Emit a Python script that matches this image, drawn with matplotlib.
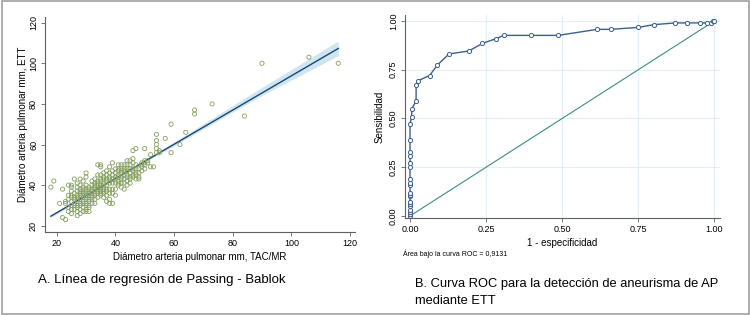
import matplotlib.pyplot as plt
import numpy as np
from matplotlib.patches import Rectangle

plt.rcParams['font.family'] = ['Liberation Sans', 'DejaVu Sans']

# panel A: diametro TAC/MR vs ETT (mm)
tac = [18, 19, 21, 22, 22, 23, 23, 23,
       24, 24, 24, 24, 24,
       25, 25, 25, 25, 25, 25, 25, 25, 25,
       26, 26, 26, 26, 26, 26, 26,
       27, 27, 27, 27, 27, 27, 27, 27, 27, 27, 27,
       28, 28, 28, 28, 28, 28, 28, 28, 28, 28, 28,
       29, 29, 29, 29, 29, 29, 29, 29, 29, 29,
       30, 30, 30, 30, 30, 30, 30, 30, 30, 30, 30, 30, 30,
       31, 31, 31, 31, 31, 31, 31, 31, 31,
       32, 32, 32, 32, 32, 32, 32, 32, 32,
       33, 33, 33, 33, 33, 33, 33, 33, 33,
       34, 34, 34, 34, 34, 34, 34, 34, 34,
       35, 35, 35, 35, 35, 35, 35, 35, 35, 35, 35,
       36, 36, 36, 36, 36, 36, 36, 36, 36,
       37, 37, 37, 37, 37, 37, 37, 37, 37,
       38, 38, 38, 38, 38, 38, 38, 38, 38,
       39, 39, 39, 39, 39, 39, 39, 39,
       40, 40, 40, 40, 40, 40, 40,
       41, 41, 41, 41, 41, 41, 41, 41,
       42, 42, 42, 42, 42, 42, 42, 42,
       43, 43, 43, 43, 43, 43, 43,
       44, 44, 44, 44, 44, 44, 44, 44,
       45, 45, 45, 45, 45, 45, 45,
       46, 46, 46, 46, 46, 46, 46,
       47, 47, 47, 47, 47, 47,
       48, 48, 48, 48,
       49, 49, 49, 49,
       50, 50, 50, 50, 50,
       51, 51, 52, 52, 53,
       54, 54, 54, 54, 54, 55, 55, 57, 59, 59, 62, 64, 67, 67,
       73, 84, 90, 106, 116]
ett = [39, 42, 31, 24, 38, 23, 31, 32,
       27, 29, 33, 35, 40,
       26, 28, 30, 32, 34, 35, 37, 39, 40,
       28, 30, 31, 33, 34, 36, 43,
       25, 27, 29, 30, 32, 33, 34, 35, 37, 39, 41,
       26, 28, 30, 31, 33, 35, 36, 37, 38, 40, 43,
       27, 29, 31, 32, 34, 35, 36, 38, 39, 42,
       27, 28, 30, 31, 33, 34, 35, 36, 37, 38, 40, 44, 46,
       27, 29, 30, 32, 33, 35, 36, 38, 39,
       31, 33, 34, 35, 36, 37, 38, 40, 42,
       31, 33, 35, 36, 38, 39, 40, 41, 43,
       34, 36, 37, 38, 40, 41, 42, 45, 50,
       35, 36, 37, 38, 39, 40, 42, 43, 45, 49, 50,
       34, 36, 37, 38, 40, 41, 43, 44, 46,
       32, 35, 37, 38, 40, 42, 43, 45, 47,
       31, 33, 36, 38, 41, 43, 44, 46, 49,
       31, 36, 38, 41, 43, 45, 47, 51,
       35, 38, 41, 43, 44, 46, 48,
       40, 41, 42, 44, 45, 47, 48, 50,
       39, 41, 43, 44, 46, 47, 48, 50,
       38, 41, 43, 45, 47, 48, 50,
       40, 42, 44, 45, 47, 48, 50, 52,
       41, 43, 44, 46, 48, 50, 52,
       44, 45, 47, 48, 51, 53, 57,
       43, 45, 46, 48, 50, 58,
       43, 44, 46, 48,
       47, 49, 50, 51,
       48, 50, 51, 52, 58,
       51, 52, 49, 55, 49,
       56, 58, 60, 62, 65, 56, 57, 63, 56, 70, 60, 66, 75, 77,
       80, 74, 100, 103, 100]

# recta Passing-Bablok e IC
pb_x = [18, 116]
pb_y = [24.7, 107.3]
band_x = [18, 35, 60, 90, 116]
band_lo = [24.0, 38.8, 59.4, 84.2, 103.8]
band_hi = [25.4, 39.7, 61.2, 88.2, 111.0]

# panel B: curva ROC
fpr = [0, 0, 0, 0, 0, 0, 0, 0, 0, 0, 0, 0, 0, 0, 0, 0, 0, 0, 0,
       0.005, 0.006, 0.02, 0.02, 0.027, 0.064, 0.09, 0.128, 0.193, 0.238,
       0.282, 0.308, 0.398, 0.487, 0.615, 0.66, 0.75, 0.80, 0.872, 0.91,
       0.954, 0.976, 0.99, 0.995, 1.0]
tpr = [0, 0.01, 0.02, 0.03, 0.05, 0.06, 0.07, 0.10, 0.11, 0.12, 0.16, 0.17,
       0.19, 0.25, 0.27, 0.31, 0.33, 0.39, 0.47,
       0.509, 0.55, 0.59, 0.67, 0.694, 0.72, 0.774, 0.831, 0.846, 0.885,
       0.909, 0.926, 0.926, 0.926, 0.957, 0.957, 0.967, 0.981, 0.99, 0.99,
       0.99, 0.99, 0.99, 1.0, 1.0]
auc_txt = "Área bajo la curva ROC = 0,9131"

fig = plt.figure(figsize=(7.5, 3.15), dpi=100)
fig.patches.append(Rectangle((0.002, 0.004), 0.996, 0.992, transform=fig.transFigure,
                             fill=False, edgecolor='#a0a0a0', linewidth=1.2))

tick_fs = 6.5
gray = '#606060'

# ---- A
ax = fig.add_axes([0.06, 0.2635, 0.4133, 0.6825])
ax.fill_between(band_x, band_lo, band_hi, color='#cfe5f1', linewidth=0)
ax.plot(pb_x, pb_y, color='#1a476f', linewidth=1.0)
ax.scatter(tac, ett, s=9, facecolors='none', edgecolors='#86a060', linewidths=0.6, zorder=3)
ax.set_xlim(16, 121.7)
ax.set_ylim(16.9, 122.8)
ax.set_xticks([20, 40, 60, 80, 100, 120])
ax.set_yticks([20, 40, 60, 80, 100, 120])
for s in ['top', 'right']:
    ax.spines[s].set_visible(False)
for s in ['left', 'bottom']:
    ax.spines[s].set_color(gray)
    ax.spines[s].set_linewidth(0.8)
ax.tick_params(labelsize=tick_fs, length=3, width=0.6, color=gray, pad=2)
plt.setp(ax.get_yticklabels(), rotation=90, va='center')
ax.set_xlabel("Diámetro arteria pulmonar mm, TAC/MR", fontsize=7, labelpad=3)
ax.set_ylabel("Diámetro arteria pulmonar mm, ETT", fontsize=7, labelpad=1)

fig.text(0.051, 0.11, "A. Línea de regresión de Passing - Bablok", fontsize=9.5, va='center')

# ---- B
bx = fig.add_axes([0.54, 0.307, 0.42, 0.645])
for v in [0.25, 0.5, 0.75, 1.0]:
    bx.axhline(v, color='#e3eef5', linewidth=0.8, zorder=0)
    bx.axvline(v, color='#e3eef5', linewidth=0.8, zorder=0)
bx.plot([0, 1], [0, 1], color='#3c8c84', linewidth=0.8)
bx.plot(fpr, tpr, color='#3d5f8c', linewidth=1.0, marker='o', markersize=3.0,
        markerfacecolor='white', markeredgecolor='#3d5f8c', markeredgewidth=0.7)
bx.set_xlim(-0.0165, 1.0185)
bx.set_ylim(-0.012, 1.03)
ticks = [0, 0.25, 0.5, 0.75, 1.0]
bx.set_xticks(ticks)
bx.set_yticks(ticks)
bx.set_xticklabels(["0.00", "0.25", "0.50", "0.75", "1.00"])
bx.set_yticklabels(["0.00", "0.25", "0.50", "0.75", "1.00"])
for s in ['top', 'right']:
    bx.spines[s].set_visible(False)
for s in ['left', 'bottom']:
    bx.spines[s].set_color(gray)
    bx.spines[s].set_linewidth(0.8)
bx.tick_params(labelsize=tick_fs, length=3, width=0.6, color=gray, pad=2)
plt.setp(bx.get_yticklabels(), rotation=90, va='center')
bx.set_xlabel("1 - especificidad", fontsize=7, labelpad=3)
bx.set_ylabel("Sensibilidad", fontsize=7, labelpad=3)
fig.text(0.537, 0.196, auc_txt, fontsize=5, va='center')

fig.text(0.553, 0.098, "B. Curva ROC para la detección de aneurisma de AP", fontsize=9.3, va='center')
fig.text(0.553, 0.045, "mediante ETT", fontsize=9.3, va='center')

fig.savefig("out.png", dpi=100)
